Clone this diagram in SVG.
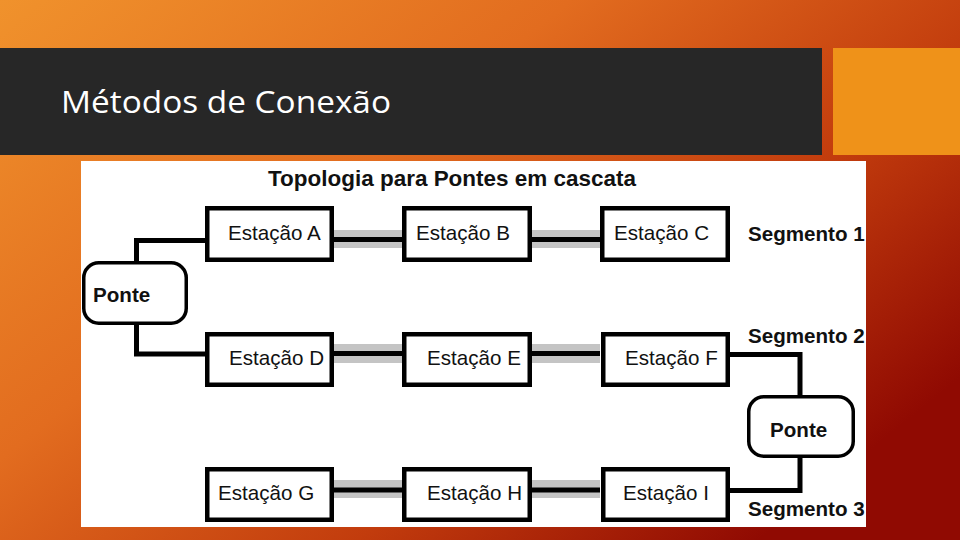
<svg xmlns="http://www.w3.org/2000/svg" width="960" height="540" viewBox="0 0 960 540">
<defs>
<linearGradient id="bg" x1="0" y1="0" x2="1" y2="0.7">
<stop offset="0" stop-color="#f0922c"/>
<stop offset="0.4" stop-color="#e26c1f"/>
<stop offset="0.72" stop-color="#c23c0d"/>
<stop offset="1" stop-color="#900a02"/>
</linearGradient>
<clipPath id="panel"><rect x="81" y="161" width="785" height="366"/></clipPath>
<style>
.st rect{fill:#fff;stroke:#000;stroke-width:4.5}
.br rect{fill:#fff;stroke:#000;stroke-width:3.5}
.lbl{font-family:"Liberation Sans",Arial,sans-serif;font-size:20.6px;fill:#111}
.bold{font-weight:bold}
.gray{fill:#c4c4c4}
.wire{fill:none;stroke:#000;stroke-width:5}
</style>
</defs>
<rect width="960" height="540" fill="url(#bg)"/>
<rect x="0" y="48" width="822" height="107" fill="#272727"/>
<rect x="833" y="48" width="127" height="107" fill="#ef9219"/>
<text x="61" y="113" font-family="'Open Sans','DejaVu Sans',sans-serif" font-size="31" fill="#fff" textLength="330" lengthAdjust="spacingAndGlyphs">Métodos de Conexão</text>
<rect x="81" y="161" width="785" height="366" fill="#fff"/>
<text x="268" y="186" class="lbl bold" style="font-size:22px" textLength="368" lengthAdjust="spacingAndGlyphs">Topologia para Pontes em cascata</text>
<g id="connectors">
<rect class="gray" x="334" y="230" width="68" height="18"/>
<rect class="gray" x="532" y="230" width="68" height="18"/>
<rect class="gray" x="334" y="344" width="68" height="19"/>
<rect class="gray" x="532" y="344" width="68" height="19"/>
<rect class="gray" x="334" y="480" width="68" height="18"/>
<rect class="gray" x="532" y="480" width="68" height="18"/>
<path class="wire" d="M334 239.5H402M532 239.5H600M334 353.5H402M532 353.5H600M334 490H402M532 490H600"/>
<path class="wire" d="M205 240.5H136.5V261M136.5 325V354H205"/>
<path class="wire" d="M730 354.5H800V395M800 458V490.5H730"/>
</g>
<g id="estacaoA" class="st"><rect x="207.25" y="208.25" width="124.5" height="51.5"/><text class="lbl" x="228" y="240">Estação A</text></g>
<g id="estacaoB" class="st"><rect x="404.25" y="208.25" width="125.5" height="51.5"/><text class="lbl" x="416" y="240">Estação B</text></g>
<g id="estacaoC" class="st"><rect x="602.25" y="208.25" width="125.5" height="51.5"/><text class="lbl" x="614" y="240">Estação C</text></g>
<g id="estacaoD" class="st"><rect x="207.25" y="334.25" width="124.5" height="50.5"/><text class="lbl" x="229" y="365">Estação D</text></g>
<g id="estacaoE" class="st"><rect x="404.25" y="334.25" width="125.5" height="50.5"/><text class="lbl" x="427" y="365">Estação E</text></g>
<g id="estacaoF" class="st"><rect x="603.25" y="334.25" width="124.5" height="50.5"/><text class="lbl" x="625" y="365">Estação F</text></g>
<g id="estacaoG" class="st"><rect x="207.25" y="469.25" width="124.5" height="50.5"/><text class="lbl" x="218" y="500">Estação G</text></g>
<g id="estacaoH" class="st"><rect x="404.25" y="469.25" width="125.5" height="50.5"/><text class="lbl" x="427" y="500">Estação H</text></g>
<g id="estacaoI" class="st"><rect x="603.25" y="469.25" width="124.5" height="50.5"/><text class="lbl" x="623" y="500">Estação I</text></g>
<g id="ponte1" class="br"><rect x="83.75" y="262.75" width="102.5" height="60.5" rx="15"/><text class="lbl bold" x="93" y="302">Ponte</text></g>
<g id="ponte2" class="br"><rect x="748.75" y="396.75" width="104.5" height="59.5" rx="15"/><text class="lbl bold" x="770" y="437">Ponte</text></g>
<g id="segmentos" clip-path="url(#panel)">
<text class="lbl bold" x="748" y="241">Segmento 1</text>
<text class="lbl bold" x="748" y="343">Segmento 2</text>
<text class="lbl bold" x="748" y="516">Segmento 3</text>
</g>
</svg>
